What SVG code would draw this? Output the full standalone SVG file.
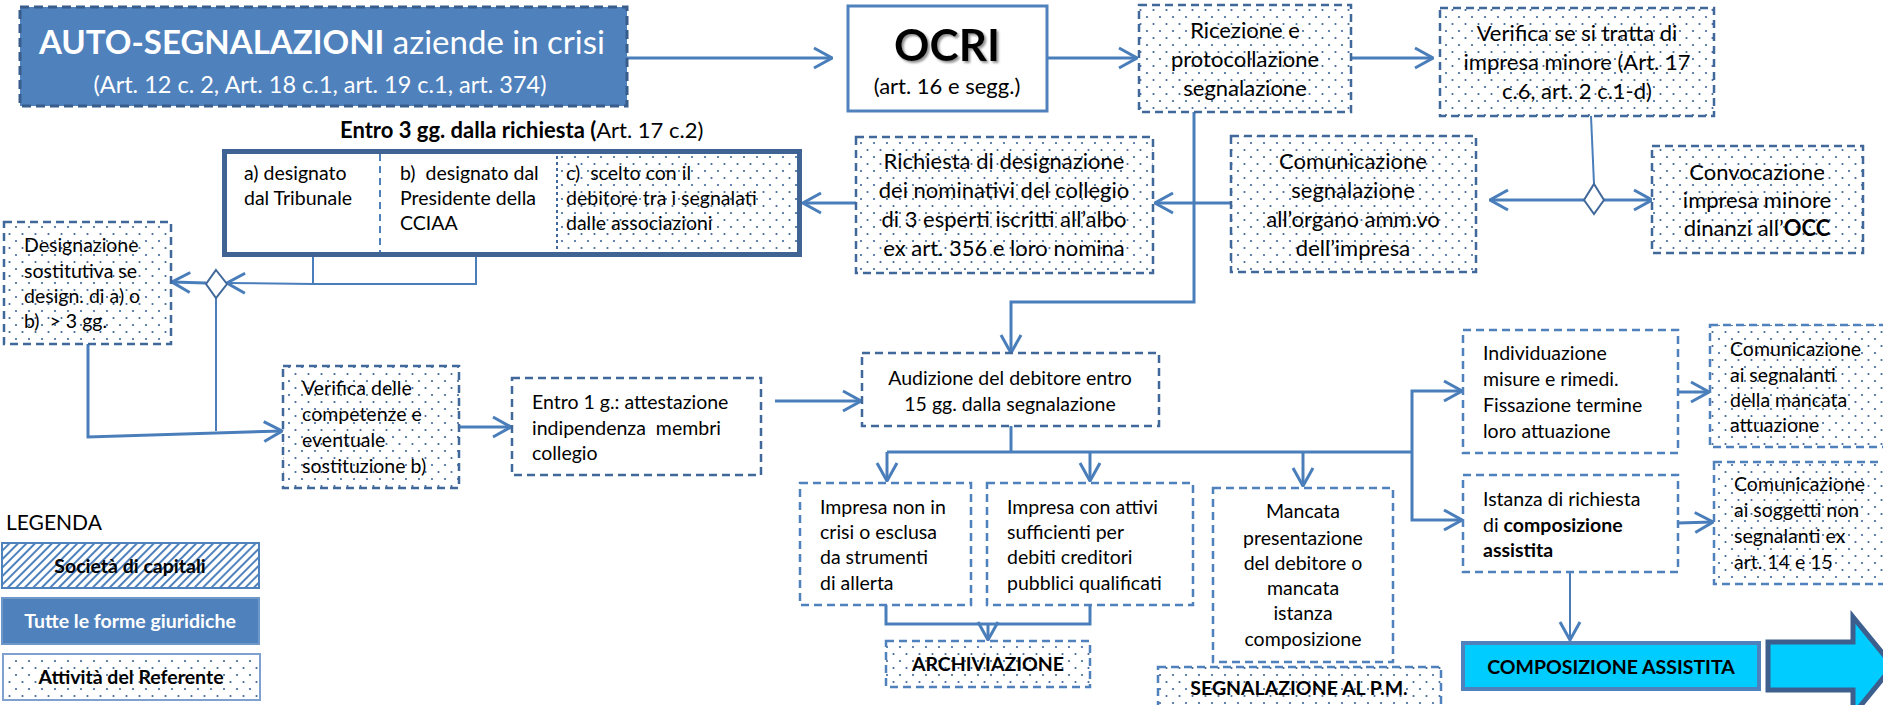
<svg xmlns="http://www.w3.org/2000/svg" width="1883" height="705" viewBox="0 0 1883 705">
<defs>
  <pattern id="dots" width="13" height="14" patternUnits="userSpaceOnUse">
    <rect width="13" height="14" fill="#fff"/>
    <circle cx="3" cy="3" r="1.1" fill="#3F6696"/>
    <circle cx="9.5" cy="10" r="1.1" fill="#3F6696"/>
  </pattern>
  <pattern id="hatch" width="6" height="6" patternUnits="userSpaceOnUse" patternTransform="rotate(45)">
    <rect width="6" height="6" fill="#fff"/>
    <line x1="1" y1="0" x2="1" y2="6" stroke="#4F81BD" stroke-width="2"/>
  </pattern>
  <marker id="ah" viewBox="0 0 20 24" refX="19" refY="12" markerWidth="20" markerHeight="24" markerUnits="userSpaceOnUse" orient="auto">
    <path d="M1,2 L19,12 L1,22" fill="none" stroke="#4A7EBB" stroke-width="3"/>
  </marker>
  <filter id="sh" x="-20%" y="-20%" width="140%" height="140%">
    <feDropShadow dx="2" dy="2" stdDeviation="1.2" flood-color="#777" flood-opacity="0.8"/>
  </filter>
</defs>
<style>
  text { font-family: Lato, "Liberation Sans", sans-serif; fill: #000; }
  .f24 { font-size: 22px; }
  .f21 { font-size: 19.5px; }
  .c { text-anchor: middle; }
  .b { font-weight: bold; }
  .pre { white-space: pre; }
  .dbox { fill: url(#dots); stroke: #41689A; stroke-width: 2.5; stroke-dasharray: 8 5; }
  .lbox { fill: #fff; stroke: #4F81BD; stroke-width: 2.5; stroke-dasharray: 8 5; }
  .kbox { fill: #fff; stroke: #41689A; stroke-width: 2.5; stroke-dasharray: 8 5; }
  .conn { fill: none; stroke: #4A7EBB; stroke-width: 3; }
  .thin { stroke-width: 2; }
  .arr { marker-end: url(#ah); }
  .dia { fill: #fff; stroke: #41689A; stroke-width: 2; }
</style>
<rect width="1883" height="705" fill="#fff"/>

<g id="connectors">
  <path class="conn arr" d="M627,58 H832"/>
  <path class="conn arr" d="M1048,58 H1137"/>
  <path class="conn arr" d="M1351,58 H1433"/>
  <path class="conn thin" d="M1591,116 L1594,184"/>
  <path class="conn arr" d="M1584,200 H1490"/>
  <path class="conn arr" d="M1604,200 H1652"/>
  <path class="conn arr" d="M1231,203 H1155"/>
  <path class="conn arr" d="M1194,112 V302 H1011 V353"/>
  <path class="conn arr" d="M856,203 H803"/>
  <path class="conn thin" d="M476,257 V284 H313 M313,257 V284"/>
  <path class="conn thin arr" d="M313,284 L227,283"/>
  <path class="conn arr" d="M206,283 L172,282"/>
  <path class="conn thin" d="M216,298 V431"/>
  <path class="conn arr" d="M88,344 V437 L282,431"/>
  <path class="conn arr" d="M459,427 H511"/>
  <path class="conn arr" d="M775,401 H861"/>
  <path class="conn" d="M1011,426 V452 M887,452 H1412"/>
  <path class="conn arr" d="M887,452 V481"/>
  <path class="conn arr" d="M1090,452 V481"/>
  <path class="conn arr" d="M1303,452 V486"/>
  <path class="conn arr" d="M1412,452 V391 H1462"/>
  <path class="conn arr" d="M1412,452 V520 H1462"/>
  <path class="conn arr" d="M1678,392 H1709"/>
  <path class="conn arr" d="M1678,523 L1713,522"/>
  <path class="conn thin arr" d="M1570,572 V640"/>
  <path class="conn" d="M886,605 V624 H1090 V605"/>
  <path class="conn arr" d="M988,624 V640"/>
</g>

<g id="diamond-verifica"><polygon class="dia" points="1594,184 1604,200 1594,214 1584,200"/></g>
<g id="diamond-designazione"><polygon class="dia" points="216,270 227,284 216,298 206,284"/></g>

<g id="header">
  <rect x="20" y="7" width="607" height="99" fill="#4F81BD" stroke="#385D8A" stroke-width="3" stroke-dasharray="9 5"/>
  <text x="322" y="54" class="c" style="font-size:33px;fill:#fff"><tspan class="b" style="fill:#fff">AUTO-SEGNALAZIONI</tspan> aziende in crisi</text>
  <text x="320" y="93" class="c" style="font-size:23.5px;fill:#fff">(Art. 12 c. 2, Art. 18 c.1, art. 19 c.1, art. 374)</text>
</g>

<g id="ocri">
  <rect x="848" y="6" width="199" height="105" fill="#fff" stroke="#4F81BD" stroke-width="3"/>
  <text x="947" y="61" class="c b" style="font-size:44px" filter="url(#sh)">OCRI</text>
  <text x="947" y="94" class="c f24">(art. 16 e segg.)</text>
</g>

<g id="ricezione">
  <rect class="dbox" x="1139" y="5" width="212" height="107"/>
  <text class="c f24"><tspan x="1245" y="38">Ricezione e</tspan><tspan x="1245" y="67">protocollazione</tspan><tspan x="1245" y="96">segnalazione</tspan></text>
</g>

<g id="verifica-impresa">
  <rect class="dbox" x="1440" y="8" width="274" height="108"/>
  <text class="c f24"><tspan x="1577" y="41">Verifica se si tratta di</tspan><tspan x="1577" y="70">impresa minore (Art. 17</tspan><tspan x="1577" y="99">c.6, art. 2 c.1-d)</tspan></text>
</g>

<g id="convocazione">
  <rect class="dbox" x="1652" y="146" width="211" height="107"/>
  <text class="c f24"><tspan x="1757" y="180">Convocazione</tspan><tspan x="1757" y="208">impresa minore</tspan><tspan x="1757" y="236">dinanzi all’<tspan class="b">OCC</tspan></tspan></text>
</g>

<g id="comunicazione-organo">
  <rect class="dbox" x="1231" y="136" width="245" height="136"/>
  <text class="c f24"><tspan x="1353" y="169">Comunicazione</tspan><tspan x="1353" y="198">segnalazione</tspan><tspan x="1353" y="227">all’organo amm.vo</tspan><tspan x="1353" y="256">dell’impresa</tspan></text>
</g>

<g id="richiesta">
  <rect class="dbox" x="856" y="137" width="297" height="136"/>
  <text class="c f24"><tspan x="1004" y="169">Richiesta di designazione</tspan><tspan x="1004" y="198">dei nominativi del collegio</tspan><tspan x="1004" y="227">di 3 esperti iscritti all’albo</tspan><tspan x="1004" y="256">ex art. 356 e loro nomina</tspan></text>
</g>

<g id="collegio">
  <text x="340" y="138" class="f24 pre"><tspan class="b">Entro 3 gg. dalla richiesta (</tspan>Art. 17 c.2)</text>
  <rect x="224.5" y="151.5" width="575" height="103" fill="#fff"/>
  <rect x="557" y="153" width="242" height="100" fill="url(#dots)" stroke="#41689A" stroke-width="2" stroke-dasharray="3 3"/>
  <line x1="380" y1="154" x2="380" y2="252" stroke="#4F81BD" stroke-width="2" stroke-dasharray="7 5"/>
  <rect x="224.5" y="151.5" width="575" height="103" fill="none" stroke="#3F6494" stroke-width="5"/>
  <text class="f21 pre"><tspan x="244" y="180">a) designato</tspan><tspan x="244" y="205">dal Tribunale</tspan></text>
  <text class="f21 pre"><tspan x="400" y="180">b)  designato dal</tspan><tspan x="400" y="205">Presidente della</tspan><tspan x="400" y="230">CCIAA</tspan></text>
  <text class="f21 pre"><tspan x="566" y="180">c)  scelto con il</tspan><tspan x="566" y="205">debitore tra i segnalati</tspan><tspan x="566" y="230">dalle associazioni</tspan></text>
</g>

<g id="designazione">
  <rect class="dbox" x="4" y="222" width="167" height="122"/>
  <text class="f21 pre"><tspan x="24" y="252">Designazione</tspan><tspan x="24" y="278">sostitutiva se</tspan><tspan x="24" y="303">design. di a) o</tspan><tspan x="24" y="328">b)  &gt; 3 gg.</tspan></text>
</g>

<g id="verifica-competenze">
  <rect class="dbox" x="283" y="366" width="176" height="122"/>
  <text class="f21"><tspan x="302" y="395">Verifica delle</tspan><tspan x="302" y="421">competenze e</tspan><tspan x="302" y="447">eventuale</tspan><tspan x="302" y="473">sostituzione b)</tspan></text>
</g>

<g id="entro-1g">
  <rect class="kbox" x="512" y="378" width="249" height="97"/>
  <text class="f21 pre"><tspan x="532" y="409">Entro 1 g.: attestazione</tspan><tspan x="532" y="435">indipendenza  membri</tspan><tspan x="532" y="460">collegio</tspan></text>
</g>

<g id="audizione">
  <rect class="kbox" x="862" y="353" width="297" height="73"/>
  <text class="c f21"><tspan x="1010" y="385">Audizione del debitore entro</tspan><tspan x="1010" y="411">15 gg. dalla segnalazione</tspan></text>
</g>

<g id="impresa-non-crisi">
  <rect class="lbox" x="800" y="483" width="171" height="122"/>
  <text class="f21"><tspan x="820" y="514">Impresa non in</tspan><tspan x="820" y="539">crisi o esclusa</tspan><tspan x="820" y="564">da strumenti</tspan><tspan x="820" y="590">di allerta</tspan></text>
</g>

<g id="impresa-attivi">
  <rect class="lbox" x="987" y="483" width="206" height="122"/>
  <text class="f21"><tspan x="1007" y="514">Impresa con attivi</tspan><tspan x="1007" y="539">sufficienti per</tspan><tspan x="1007" y="564">debiti creditori</tspan><tspan x="1007" y="590">pubblici qualificati</tspan></text>
</g>

<g id="archiviazione">
  <rect class="dbox" x="886" y="641" width="204" height="46" style="stroke:#4F81BD"/>
  <text x="988" y="671" class="c b f21">ARCHIVIAZIONE</text>
</g>

<g id="mancata">
  <rect class="lbox" x="1213" y="488" width="180" height="174"/>
  <text class="c f21"><tspan x="1303" y="518">Mancata</tspan><tspan x="1303" y="545">presentazione</tspan><tspan x="1303" y="570">del debitore o</tspan><tspan x="1303" y="595">mancata</tspan><tspan x="1303" y="620">istanza</tspan><tspan x="1303" y="646">composizione</tspan></text>
</g>

<g id="segnalazione-pm">
  <rect class="dbox" x="1158" y="667" width="283" height="50" style="stroke:#4F81BD"/>
  <text x="1299" y="695" class="c b f21">SEGNALAZIONE AL P.M.</text>
</g>

<g id="individuazione">
  <rect class="lbox" x="1463" y="330" width="215" height="123"/>
  <text class="f21"><tspan x="1483" y="360">Individuazione</tspan><tspan x="1483" y="386">misure e rimedi.</tspan><tspan x="1483" y="412">Fissazione termine</tspan><tspan x="1483" y="438">loro attuazione</tspan></text>
</g>

<g id="istanza">
  <rect class="lbox" x="1463" y="475" width="215" height="97"/>
  <text class="f21"><tspan x="1483" y="506">Istanza di richiesta</tspan><tspan x="1483" y="532">di <tspan class="b">composizione</tspan></tspan><tspan x="1483" y="557" class="b">assistita</tspan></text>
</g>

<g id="comunicazione-segnalanti">
  <rect class="dbox" x="1710" y="325" width="185" height="122" style="stroke:#4F81BD"/>
  <text class="f21"><tspan x="1730" y="356">Comunicazione</tspan><tspan x="1730" y="382">ai segnalanti</tspan><tspan x="1730" y="407">della mancata</tspan><tspan x="1730" y="432">attuazione</tspan></text>
</g>

<g id="comunicazione-soggetti">
  <rect class="dbox" x="1714" y="462" width="181" height="122" style="stroke:#4F81BD"/>
  <text class="f21"><tspan x="1734" y="491">Comunicazione</tspan><tspan x="1734" y="517">ai soggetti non</tspan><tspan x="1734" y="543">segnalanti ex</tspan><tspan x="1734" y="569">art. 14 e 15</tspan></text>
</g>

<g id="composizione-assistita">
  <rect x="1463" y="643" width="296" height="46" fill="#00CCFF" stroke="#4F81BD" stroke-width="4"/>
  <text x="1611" y="674" class="c b f21">COMPOSIZIONE ASSISTITA</text>
</g>

<g id="freccia">
  <polygon points="1768,642 1853,642 1853,617 1893,666 1853,715 1853,690 1768,690" fill="#00CCFF" stroke="#3C5F8E" stroke-width="5"/>
</g>

<g id="legenda">
  <text x="6" y="530" style="font-size:21px">LEGENDA</text>
  <rect x="2" y="543" width="257" height="45" fill="url(#hatch)" stroke="#4F81BD" stroke-width="2"/>
  <text x="130" y="573" class="c b f21">Società di capitali</text>
  <rect x="2" y="598" width="257" height="46" fill="#4F81BD" stroke="#6F97C9" stroke-width="2"/>
  <text x="130" y="628" class="c b f21" style="fill:#fff">Tutte le forme giuridiche</text>
  <rect x="3" y="654" width="257" height="46" fill="url(#dots)" stroke="#7EA1CF" stroke-width="2"/>
  <text x="131" y="684" class="c b f21">Attività del Referente</text>
</g>
</svg>
